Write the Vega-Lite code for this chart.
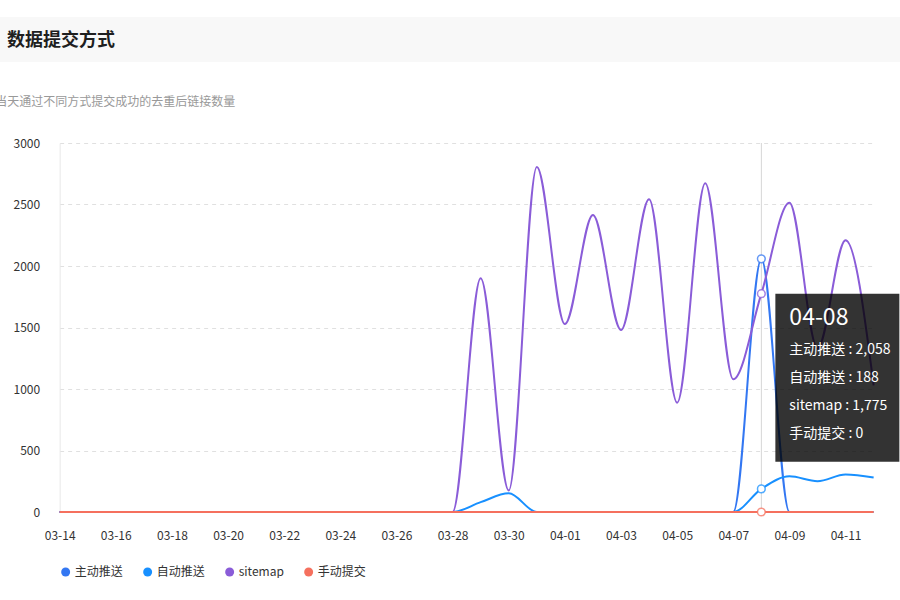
{
  "$schema": "https://vega.github.io/schema/vega-lite/v6.json",
  "padding": {"top": 17, "left": -6, "right": 0, "bottom": 0},
  "background": "#ffffff",
  "config": {
    "font": "Noto Sans CJK SC",
    "view": {"stroke": null}
  },
  "columns": 1,
  "bounds": "full",
  "center": true,
  "spacing": 33,
  "resolve": {"legend": {"color": "independent"}},
  "concat": [
    {
      "width": 963,
      "height": 45,
      "view": {"fill": "#f8f8f8", "stroke": null},
      "title": {
        "text": "数据提交方式",
        "orient": "top",
        "anchor": "start",
        "frame": "group",
        "offset": -42,
        "baseline": "middle",
        "dx": 9,
        "fontSize": 18,
        "fontWeight": "bold",
        "color": "#1f1f1f"
      },
      "data": {"values": []},
      "mark": "point"
    },
    {
      "width": 814,
      "height": 369,
      "data": {
        "values": [
          {"date": "03-14", "主动推送": 0, "自动推送": 0, "sitemap": 0, "手动提交": 0},
          {"date": "03-15", "主动推送": 0, "自动推送": 0, "sitemap": 0, "手动提交": 0},
          {"date": "03-16", "主动推送": 0, "自动推送": 0, "sitemap": 0, "手动提交": 0},
          {"date": "03-17", "主动推送": 0, "自动推送": 0, "sitemap": 0, "手动提交": 0},
          {"date": "03-18", "主动推送": 0, "自动推送": 0, "sitemap": 0, "手动提交": 0},
          {"date": "03-19", "主动推送": 0, "自动推送": 0, "sitemap": 0, "手动提交": 0},
          {"date": "03-20", "主动推送": 0, "自动推送": 0, "sitemap": 0, "手动提交": 0},
          {"date": "03-21", "主动推送": 0, "自动推送": 0, "sitemap": 0, "手动提交": 0},
          {"date": "03-22", "主动推送": 0, "自动推送": 0, "sitemap": 0, "手动提交": 0},
          {"date": "03-23", "主动推送": 0, "自动推送": 0, "sitemap": 0, "手动提交": 0},
          {"date": "03-24", "主动推送": 0, "自动推送": 0, "sitemap": 0, "手动提交": 0},
          {"date": "03-25", "主动推送": 0, "自动推送": 0, "sitemap": 0, "手动提交": 0},
          {"date": "03-26", "主动推送": 0, "自动推送": 0, "sitemap": 0, "手动提交": 0},
          {"date": "03-27", "主动推送": 0, "自动推送": 0, "sitemap": 0, "手动提交": 0},
          {"date": "03-28", "主动推送": 0, "自动推送": 0, "sitemap": 0, "手动提交": 0},
          {"date": "03-29", "主动推送": 0, "自动推送": 80, "sitemap": 1900, "手动提交": 0},
          {"date": "03-30", "主动推送": 0, "自动推送": 152, "sitemap": 175, "手动提交": 0},
          {"date": "03-31", "主动推送": 0, "自动推送": 0, "sitemap": 2805, "手动提交": 0},
          {"date": "04-01", "主动推送": 0, "自动推送": 0, "sitemap": 1528, "手动提交": 0},
          {"date": "04-02", "主动推送": 0, "自动推送": 0, "sitemap": 2415, "手动提交": 0},
          {"date": "04-03", "主动推送": 0, "自动推送": 0, "sitemap": 1480, "手动提交": 0},
          {"date": "04-04", "主动推送": 0, "自动推送": 0, "sitemap": 2542, "手动提交": 0},
          {"date": "04-05", "主动推送": 0, "自动推送": 0, "sitemap": 889, "手动提交": 0},
          {"date": "04-06", "主动推送": 0, "自动推送": 0, "sitemap": 2672, "手动提交": 0},
          {"date": "04-07", "主动推送": 0, "自动推送": 0, "sitemap": 1079, "手动提交": 0},
          {"date": "04-08", "主动推送": 2058, "自动推送": 188, "sitemap": 1775, "手动提交": 0},
          {"date": "04-09", "主动推送": 0, "自动推送": 290, "sitemap": 2515, "手动提交": 0},
          {"date": "04-10", "主动推送": 0, "自动推送": 250, "sitemap": 1330, "手动提交": 0},
          {"date": "04-11", "主动推送": 0, "自动推送": 305, "sitemap": 2210, "手动提交": 0},
          {"date": "04-12", "主动推送": 0, "自动推送": 280, "sitemap": 1030, "手动提交": 0}
        ]
      },
      "encoding": {
        "x": {
          "field": "date",
          "type": "ordinal",
          "scale": {"type": "point", "padding": 0},
          "axis": {
            "title": null,
            "values": ["03-14", "03-16", "03-18", "03-20", "03-22", "03-24", "03-26", "03-28", "03-30", "04-01", "04-03", "04-05", "04-07", "04-09", "04-11"],
            "labelAngle": 0,
            "labelFontSize": 12,
            "labelColor": "#333333",
            "labelPadding": 18,
            "ticks": false,
            "tickSize": 0,
            "domain": false,
            "grid": false
          }
        }
      },
      "layer": [
        {
          "transform": [{"filter": "datum.date === '04-08'"}],
          "mark": {"type": "rule", "color": "#d6d6d6", "strokeWidth": 1},
          "encoding": {}
        },
        {
          "transform": [{"fold": ["主动推送", "自动推送", "sitemap", "手动提交"], "as": ["series", "value"]}],
          "mark": {"type": "line", "interpolate": "monotone", "strokeWidth": 2},
          "encoding": {
            "y": {
              "field": "value",
              "type": "quantitative",
              "scale": {"domain": [0, 3000], "nice": false},
              "axis": {
                "title": "当天通过不同方式提交成功的去重后链接数量",
                "titleAngle": 0,
                "titleAlign": "left",
                "titleBaseline": "middle",
                "titleX": -65,
                "titleY": -42,
                "titleFontSize": 12,
                "titleFontWeight": "normal",
                "titleColor": "#999999",
                "values": [0, 500, 1000, 1500, 2000, 2500, 3000],
                "format": "d",
                "labelFontSize": 12,
                "labelColor": "#333333",
                "labelPadding": 20,
                "ticks": false,
                "tickSize": 0,
                "domain": true,
                "domainColor": "#e8e8e8",
                "grid": true,
                "gridColor": "#e0e0e0",
                "gridDash": [4, 4]
              }
            },
            "color": {
              "field": "series",
              "type": "nominal",
              "scale": {
                "domain": ["主动推送", "自动推送", "sitemap", "手动提交"],
                "range": ["#3377f2", "#1890ff", "#8a5cd8", "#f5705e"]
              },
              "legend": {
                "orient": "none",
                "legendX": 0,
                "legendY": 423,
                "direction": "horizontal",
                "title": null,
                "symbolType": "circle",
                "symbolSize": 80,
                "symbolStrokeWidth": 0,
                "labelFontSize": 12,
                "labelColor": "#333333",
                "labelOffset": 3,
                "columnPadding": 18,
                "encode": {
                  "symbols": {
                    "update": {
                      "fill": {"signal": "scale('color', datum.value)"},
                      "opacity": {"value": 1}
                    }
                  }
                }
              }
            }
          }
        },
        {
          "transform": [
            {"filter": "datum.date === '04-08'"},
            {"fold": ["主动推送", "自动推送", "sitemap", "手动提交"], "as": ["series", "value"]}
          ],
          "mark": {"type": "point", "filled": false, "fill": "#ffffff", "size": 60, "strokeWidth": 1.5, "opacity": 1, "strokeOpacity": 0.75},
          "encoding": {
            "y": {"field": "value", "type": "quantitative"},
            "color": {"field": "series", "type": "nominal"}
          }
        },
        {
          "transform": [{"filter": "datum.date === '04-08'"}],
          "mark": {"type": "rect", "fill": "#000000", "fillOpacity": 0.8, "xOffset": 14, "x2Offset": 138, "y2Offset": 168},
          "encoding": {
            "x2": {"field": "date"},
            "y": {"field": "sitemap", "type": "quantitative"},
            "y2": {"field": "sitemap"}
          }
        },
        {
          "transform": [{"filter": "datum.date === '04-08'"}],
          "mark": {"type": "text", "align": "left", "baseline": "middle", "dx": 28, "dy": 24, "fontSize": 23, "color": "#ffffff"},
          "encoding": {
            "y": {"field": "sitemap", "type": "quantitative"},
            "text": {"field": "date"}
          }
        },
        {
          "transform": [
            {"filter": "datum.date === '04-08'"},
            {"calculate": "['主动推送 : ' + format(datum['主动推送'], ','), '自动推送 : ' + format(datum['自动推送'], ','), 'sitemap : ' + format(datum['sitemap'], ','), '手动提交 : ' + format(datum['手动提交'], ',')]", "as": "lines"}
          ],
          "mark": {"type": "text", "align": "left", "baseline": "middle", "dx": 28, "dy": 56.5, "fontSize": 14, "lineHeight": 28, "color": "#ffffff"},
          "encoding": {
            "y": {"field": "sitemap", "type": "quantitative"},
            "text": {"field": "lines"}
          }
        }
      ]
    }
  ]
}
